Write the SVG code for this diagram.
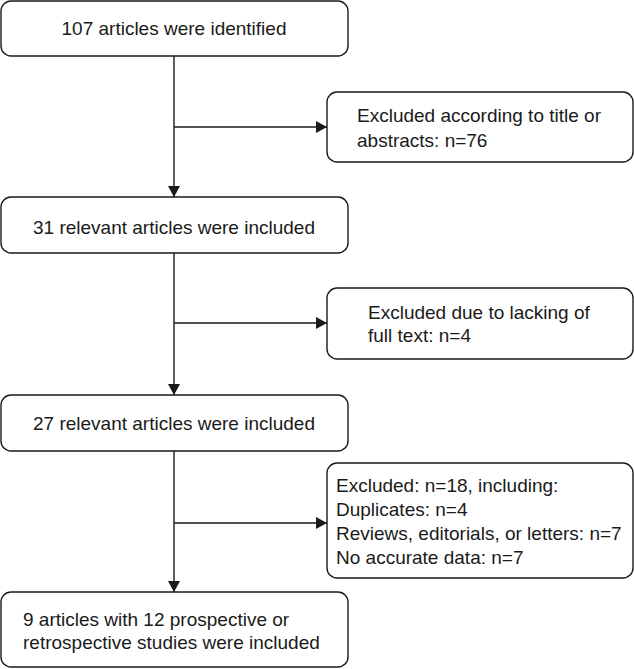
<svg xmlns="http://www.w3.org/2000/svg" width="634" height="669" viewBox="0 0 634 669">
<style>
.box{fill:#fff;stroke:#1a1a1a;stroke-width:1.4}
.t{font-family:"Liberation Sans",Arial,sans-serif;font-size:19px;fill:#1a1a1a}
.c{text-anchor:middle}
.ln{stroke:#1a1a1a;stroke-width:1.4;fill:none}
</style>
<defs>
<marker id="ah" markerWidth="12" markerHeight="12" refX="11" refY="6" orient="auto" markerUnits="userSpaceOnUse">
<path d="M0,0 L11,6 L0,12 Z" fill="#1a1a1a"/>
</marker>
</defs>
<rect width="634" height="669" fill="#fff"/>
<g id="connectors">
<line class="ln" x1="174" y1="56" x2="174" y2="197" marker-end="url(#ah)"/>
<line class="ln" x1="174" y1="127" x2="327" y2="127" marker-end="url(#ah)"/>
<line class="ln" x1="174" y1="253" x2="174" y2="395" marker-end="url(#ah)"/>
<line class="ln" x1="174" y1="323" x2="327" y2="323" marker-end="url(#ah)"/>
<line class="ln" x1="174" y1="451" x2="174" y2="592" marker-end="url(#ah)"/>
<line class="ln" x1="174" y1="523" x2="327" y2="523" marker-end="url(#ah)"/>
</g>
<g id="n1">
<rect class="box" x="1" y="1" width="347" height="55" rx="10"/>
<text class="t c" x="174" y="35">107 articles were identified</text>
</g>
<g id="e1">
<rect class="box" x="327" y="92" width="306" height="70" rx="10"/>
<text class="t" x="357" y="121.5">Excluded according to title or</text>
<text class="t" x="357" y="146.5">abstracts: n=76</text>
</g>
<g id="n2">
<rect class="box" x="1" y="197" width="347" height="56" rx="10"/>
<text class="t c" x="174" y="233.5">31 relevant articles were included</text>
</g>
<g id="e2">
<rect class="box" x="327" y="288" width="306" height="71" rx="10"/>
<text class="t" x="368" y="318.5">Excluded due to lacking of</text>
<text class="t" x="368" y="341.5">full text: n=4</text>
</g>
<g id="n3">
<rect class="box" x="1" y="395" width="347" height="56" rx="10"/>
<text class="t c" x="174" y="429.5">27 relevant articles were included</text>
</g>
<g id="e3">
<rect class="box" x="327" y="463" width="306" height="115" rx="10"/>
<text class="t" x="336" y="491.5">Excluded: n=18, including:</text>
<text class="t" x="336" y="515.5">Duplicates: n=4</text>
<text class="t" x="336" y="539.5">Reviews, editorials, or letters: n=7</text>
<text class="t" x="336" y="563.5">No accurate data: n=7</text>
</g>
<g id="n4">
<rect class="box" x="1" y="592" width="347" height="75" rx="10"/>
<text class="t" x="23" y="625.5">9 articles with 12 prospective or</text>
<text class="t" x="23" y="648.5">retrospective studies were included</text>
</g>
</svg>
